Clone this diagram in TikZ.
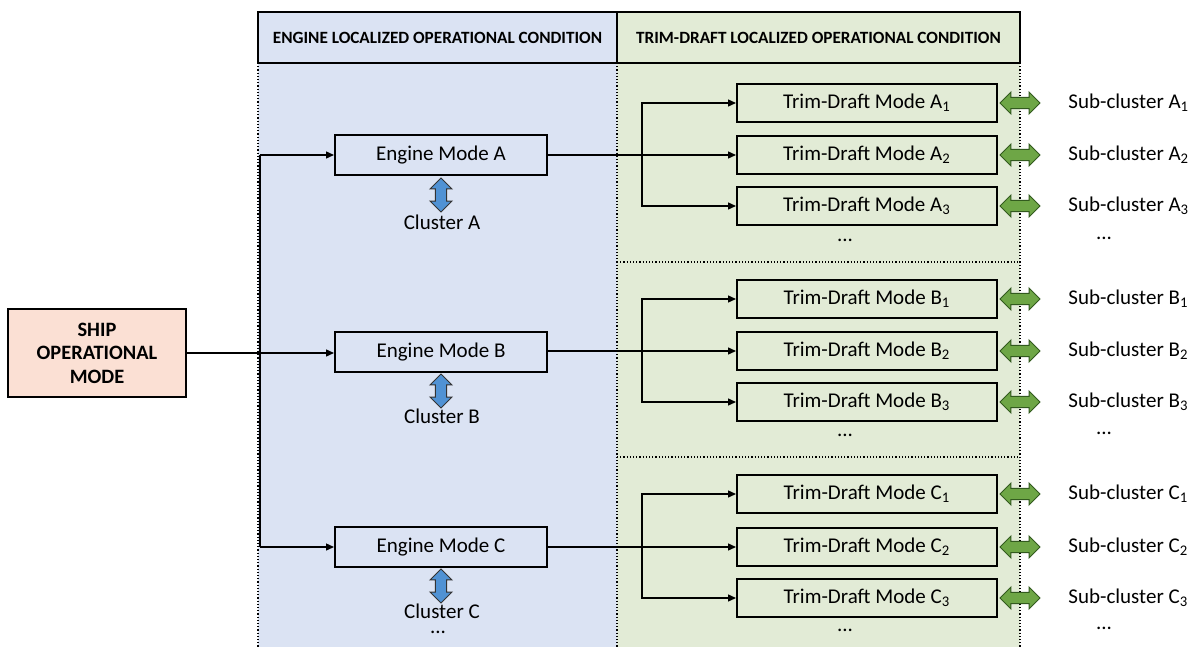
\documentclass[tikz,border=0pt]{standalone}
\usepackage{fontspec}
\setmainfont{Carlito}
\usetikzlibrary{arrows.meta,shapes.arrows}

\definecolor{engblue}{RGB}{219,227,243}
\definecolor{trimgreen}{RGB}{226,235,214}
\definecolor{shippink}{RGB}{251,224,212}
\definecolor{arrblue}{RGB}{80,146,212}
\definecolor{arrgreen}{RGB}{110,166,70}
\definecolor{arrgreendark}{RGB}{50,90,30}

\begin{document}
\begin{tikzpicture}[
    x=0.5pt, y=-0.5pt,
    header/.style={draw, line width=1pt, minimum height=25.5pt, font=\fontsize{8.6}{10}\selectfont\bfseries},
    mode/.style={draw, line width=1pt, minimum width=106pt, minimum height=20pt, font=\fontsize{10.5}{12}\selectfont},
    tdmode/.style={draw, line width=1pt, minimum width=130pt, minimum height=19pt, font=\fontsize{10.5}{12}\selectfont},
    label/.style={font=\fontsize{10.5}{12}\selectfont, inner sep=0pt},
    dots/.style={font=\fontsize{10.5}{12}\selectfont, inner sep=0pt, text height=1.5pt, text depth=0pt},
    panel/.style={densely dotted, line width=0.6pt},
    arrow/.style={-{Triangle[length=4pt,width=3.5pt]}, line width=0.7pt},
    line/.style={line width=0.7pt},
    clusterarrow/.style={double arrow, draw=black!80, line width=0.5pt, fill=arrblue, inner sep=2.6pt,
        minimum height=17pt, double arrow head extend=2.6pt, shape border rotate=90},
    subarrow/.style={double arrow, draw=arrgreendark, line width=0.5pt, fill=arrgreen, inner sep=2.6pt,
        minimum height=20pt, double arrow head extend=2.6pt}
]
\useasboundingbox (0,0) rectangle (1194,647);

% Background panels
\fill[engblue] (258,63) rectangle (617,660);
\fill[trimgreen] (617,63) rectangle (1020,660);
\draw[panel] (258,63) -- (258,660);
\draw[panel] (617,63) -- (617,660);
\draw[panel] (1020,63) -- (1020,660);
\draw[panel] (617,262) -- (1020,262);
\draw[panel] (617,457) -- (1020,457);

% Headers
\node[header, fill=engblue, minimum width=179.5pt] (hdeng) at (437.5,37.5) {ENGINE LOCALIZED OPERATIONAL CONDITION};
\node[header, fill=trimgreen, minimum width=201.5pt] (hdtrim) at (818.5,37.5) {TRIM-DRAFT LOCALIZED OPERATIONAL CONDITION};

% Ship operational mode
\node[draw, line width=1pt, fill=shippink, minimum width=89pt, minimum height=44pt, align=center,
      font=\fontsize{10.2}{11.8}\selectfont\bfseries] (ship) at (97,353) {SHIP\\OPERATIONAL\\MODE};

% Engine modes
\node[mode, fill=engblue] (engA) at (441,155) {Engine Mode A};
\node[mode, fill=engblue] (engB) at (441,352) {Engine Mode B};
\node[mode, fill=engblue] (engC) at (441,547) {Engine Mode C};

% Clusters
\node[clusterarrow] (clA) at (441,195) {};
\node[clusterarrow] (clB) at (441,391) {};
\node[clusterarrow] (clC) at (441,586) {};
\node[label] (clAtxt) at (442,222) {Cluster A};
\node[label] (clBtxt) at (442,416) {Cluster B};
\node[label] (clCtxt) at (442,611) {Cluster C};
\node[dots] (clDots) at (438,632) {...};

% Trim-draft modes
\node[tdmode, fill=trimgreen] (tdA1) at (867,103) {Trim-Draft Mode A\textsubscript{1}};
\node[tdmode, fill=trimgreen] (tdA2) at (867,155) {Trim-Draft Mode A\textsubscript{2}};
\node[tdmode, fill=trimgreen] (tdA3) at (867,206) {Trim-Draft Mode A\textsubscript{3}};
\node[dots] (tdAdots) at (845,240) {...};
\node[tdmode, fill=trimgreen] (tdB1) at (867,299) {Trim-Draft Mode B\textsubscript{1}};
\node[tdmode, fill=trimgreen] (tdB2) at (867,351) {Trim-Draft Mode B\textsubscript{2}};
\node[tdmode, fill=trimgreen] (tdB3) at (867,402) {Trim-Draft Mode B\textsubscript{3}};
\node[dots] (tdBdots) at (845,435) {...};
\node[tdmode, fill=trimgreen] (tdC1) at (867,494) {Trim-Draft Mode C\textsubscript{1}};
\node[tdmode, fill=trimgreen] (tdC2) at (867,547) {Trim-Draft Mode C\textsubscript{2}};
\node[tdmode, fill=trimgreen] (tdC3) at (867,598) {Trim-Draft Mode C\textsubscript{3}};
\node[dots] (tdCdots) at (845,630) {...};

% Sub-cluster arrows
\node[subarrow] (saA1) at (1020,103) {};
\node[subarrow] (saA2) at (1020,155) {};
\node[subarrow] (saA3) at (1020,206) {};
\node[subarrow] (saB1) at (1020,299) {};
\node[subarrow] (saB2) at (1020,351) {};
\node[subarrow] (saB3) at (1020,402) {};
\node[subarrow] (saC1) at (1020,494) {};
\node[subarrow] (saC2) at (1020,547) {};
\node[subarrow] (saC3) at (1020,598) {};

% Sub-clusters
\node[label, anchor=west] (scA1) at (1068,103) {Sub-cluster A\textsubscript{1}};
\node[label, anchor=west] (scA2) at (1068,155) {Sub-cluster A\textsubscript{2}};
\node[label, anchor=west] (scA3) at (1068,206) {Sub-cluster A\textsubscript{3}};
\node[dots] (scAdots) at (1104,238) {...};
\node[label, anchor=west] (scB1) at (1068,299) {Sub-cluster B\textsubscript{1}};
\node[label, anchor=west] (scB2) at (1068,351) {Sub-cluster B\textsubscript{2}};
\node[label, anchor=west] (scB3) at (1068,402) {Sub-cluster B\textsubscript{3}};
\node[dots] (scBdots) at (1104,433) {...};
\node[label, anchor=west] (scC1) at (1068,494) {Sub-cluster C\textsubscript{1}};
\node[label, anchor=west] (scC2) at (1068,547) {Sub-cluster C\textsubscript{2}};
\node[label, anchor=west] (scC3) at (1068,598) {Sub-cluster C\textsubscript{3}};
\node[dots] (scCdots) at (1104,628) {...};

% Ship to engine modes
\coordinate (busA) at (260,155);
\coordinate (busC) at (260,547);
\draw[arrow] (ship.east) -- (ship.east -| engB.west);
\draw[line] (busA) -- (busC);
\draw[arrow] (busA) -- (engA);
\draw[arrow] (busC) -- (engC);

% Engine modes to trim-draft modes
\coordinate (brA) at (642,155);
\coordinate (brB) at (642,351);
\coordinate (brC) at (642,547);
\draw[arrow] (engA) -- (tdA2);
\draw[arrow] (brA) |- (tdA1);
\draw[arrow] (brA) |- (tdA3);
\draw[arrow] (engB.east |- tdB2) -- (tdB2);
\draw[arrow] (brB) |- (tdB1);
\draw[arrow] (brB) |- (tdB3);
\draw[arrow] (engC) -- (tdC2);
\draw[arrow] (brC) |- (tdC1);
\draw[arrow] (brC) |- (tdC3);

\end{tikzpicture}
\end{document}
